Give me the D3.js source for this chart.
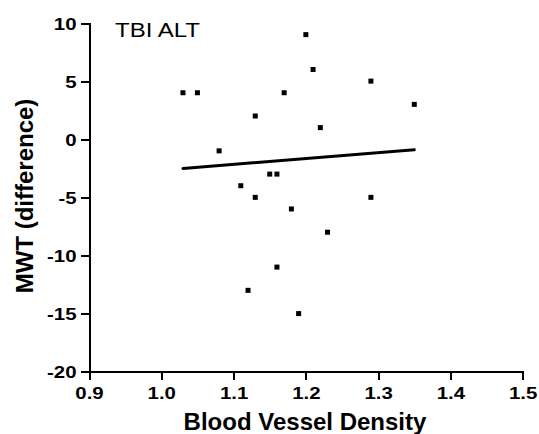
<!DOCTYPE html>
<html><head><meta charset="utf-8">
<script src="https://cdn.jsdelivr.net/npm/d3@7"></script>
<style>html,body{margin:0;padding:0;background:#fff}</style>
</head><body>
<svg id="c" width="539" height="434"></svg>
<script>
const density = [1.03, 1.05, 1.08, 1.11, 1.12, 1.13, 1.13, 1.15, 1.16, 1.16, 1.17, 1.18, 1.19, 1.20, 1.21, 1.22, 1.23, 1.29, 1.29, 1.35];
const mwtDiff = [4, 4, -1, -4, -13, 2, -5, -3, -3, -11, 4, -6, -15, 9, 6, 1, -8, 5, -5, 3];
const xTicks = [0.9, 1.0, 1.1, 1.2, 1.3, 1.4, 1.5];
const yTicks = [-20, -15, -10, -5, 0, 5, 10];
const chartTitle = "TBI ALT";
const xTitle = "Blood Vessel Density";
const yTitle = "MWT (difference)";

const svg = d3.select("#c");
const font = "'Liberation Sans', Arial, Helvetica, sans-serif";
const x = d3.scaleLinear().domain([0.9, 1.5]).range([89, 522.7]);
const y = d3.scaleLinear().domain([-20, 10]).range([371.7, 23]);
const sx = 1.2;

// Y axis
const gy = svg.append("g").attr("transform", `translate(${x(0.9)},0)`)
  .call(d3.axisLeft(y).tickValues(yTicks).tickSize(8).tickSizeOuter(0).tickFormat(d => String(d)));
gy.select(".domain").attr("stroke", "#000").attr("stroke-width", 2).attr("stroke-linecap", "square");
gy.selectAll(".tick line").attr("stroke", "#000").attr("stroke-width", 2);
gy.selectAll(".tick text")
  .attr("x", -12.5 / sx).attr("dy", "0.36em")
  .attr("transform", `scale(${sx},1)`)
  .style("font-family", font).style("font-size", "17px").style("font-weight", "bold").style("fill", "#000");

// X axis
const gx = svg.append("g").attr("transform", `translate(0,${y(-20)})`)
  .call(d3.axisBottom(x).tickValues(xTicks).tickSize(8).tickSizeOuter(0).tickPadding(7).tickFormat(d => d.toFixed(1)));
gx.select(".domain").attr("stroke", "#000").attr("stroke-width", 2).attr("stroke-linecap", "square");
gx.selectAll(".tick line").attr("stroke", "#000").attr("stroke-width", 2);
gx.selectAll(".tick text")
  .attr("transform", `scale(${sx},1)`)
  .style("font-family", font).style("font-size", "17px").style("font-weight", "bold").style("fill", "#000");
svg.selectAll(".domain, .tick line").attr("shape-rendering", "crispEdges");

// Regression line (least squares from the data)
const mx = d3.mean(density), my = d3.mean(mwtDiff);
let sxy = 0, sxx = 0;
density.forEach((d, i) => { sxy += (d - mx) * (mwtDiff[i] - my); sxx += (d - mx) * (d - mx); });
const slope = sxy / sxx, icpt = my - slope * mx;
const ext = d3.extent(density);
svg.append("path")
  .datum(ext.map(v => [v, icpt + slope * v]))
  .attr("d", d3.line().x(d => x(d[0])).y(d => y(d[1])))
  .attr("stroke", "#000").attr("stroke-width", 3).attr("stroke-linecap", "round").attr("fill", "none");

// Points
const pts = density.map((d, i) => ({x: d, y: mwtDiff[i]}));
const s = 5;
svg.append("g").selectAll("rect").data(pts).join("rect")
  .attr("x", d => x(d.x) - s / 2).attr("y", d => y(d.y) - s / 2)
  .attr("width", s).attr("height", s).attr("fill", "#000");

// Titles
svg.append("text").attr("x", 115).attr("y", 37).style("font-family", font).style("font-size", "20px")
  .attr("textLength", 85).attr("lengthAdjust", "spacingAndGlyphs").attr("fill", "#000").text(chartTitle);
svg.append("text").attr("x", 305).attr("y", 430).attr("text-anchor", "middle").style("font-family", font)
  .style("font-size", "24px").style("font-weight", "bold").attr("fill", "#000").text(xTitle);
svg.append("text").attr("transform", "translate(33,196) rotate(-90)").attr("text-anchor", "middle")
  .style("font-family", font).style("font-size", "24px").style("font-weight", "bold").attr("fill", "#000").text(yTitle);
</script>
</body></html>
